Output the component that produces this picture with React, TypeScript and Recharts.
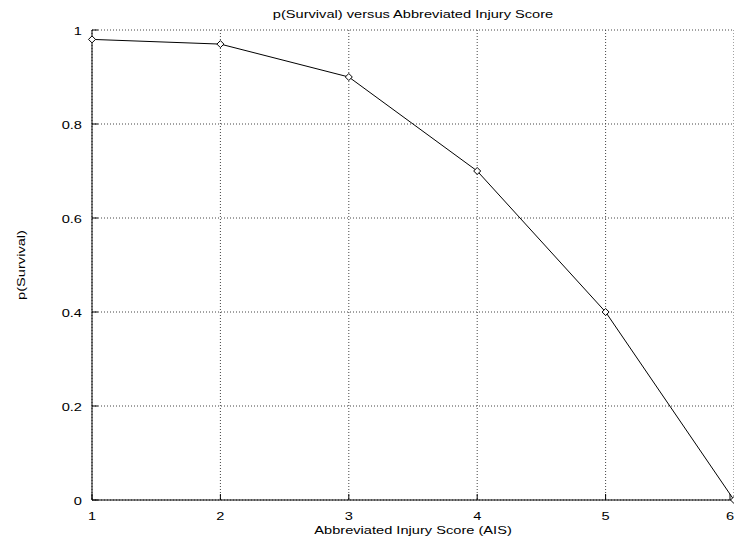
import React from 'react';
import { LineChart, Line, XAxis, YAxis, CartesianGrid } from 'recharts';

const aisScores = [1, 2, 3, 4, 5, 6];
const survival = [0.98, 0.97, 0.9, 0.7, 0.4, 0.0];
const xTicks = [1, 2, 3, 4, 5, 6];
const yTicks = [0, 0.2, 0.4, 0.6, 0.8, 1];
const titleText = 'p(Survival) versus Abbreviated Injury Score';
const xLabelText = 'Abbreviated Injury Score (AIS)';
const yLabelText = 'p(Survival)';

const data = aisScores.map((a, i) => ({ ais: a, p: survival[i] }));

const FONT = '"Liberation Sans", Arial, Helvetica, sans-serif';
const SX = 1.33;

const SText = ({ x, y, anchor, rotate, children }: any) => (
  <text
    transform={`translate(${x},${y})${rotate ? ' rotate(-90)' : ''} scale(${SX},1)`}
    x={0}
    y={0}
    textAnchor={anchor}
    fontSize={11}
    fontFamily={FONT}
    fill="#000"
  >
    {children}
  </text>
);

const BottomTick = (props: any) => {
  const { x, y, payload } = props;
  return (
    <g>
      <line x1={x} y1={y} x2={x} y2={y - 6} stroke="#000" />
      <SText x={x} y={y + 20} anchor="middle">
        {String(payload.value)}
      </SText>
    </g>
  );
};

const TopTick = (props: any) => {
  const { x, y } = props;
  return <line x1={x} y1={y} x2={x} y2={y + 6} stroke="#000" />;
};

const LeftTick = (props: any) => {
  const { x, y, payload } = props;
  return (
    <g>
      <line x1={x} y1={y} x2={x + 6} y2={y} stroke="#000" />
      <SText x={x - 10} y={y + 4.5} anchor="end">
        {String(payload.value)}
      </SText>
    </g>
  );
};

const RightTick = (props: any) => {
  const { x, y } = props;
  return <line x1={x} y1={y} x2={x - 6} y2={y} stroke="#000" />;
};

const Diamond = (props: any) => {
  const { cx, cy } = props;
  if (cx == null || cy == null) return null;
  const r = 3.5;
  return (
    <path
      d={`M${cx},${cy - r}L${cx + r},${cy}L${cx},${cy + r}L${cx - r},${cy}Z`}
      fill="#fff"
      stroke="#000"
      strokeWidth={1}
    />
  );
};

export default function App() {
  return (
    <div
      style={{
        position: 'absolute',
        left: 0,
        top: 0,
        width: 734,
        height: 540,
        overflow: 'hidden',
        background: '#fff',
      }}
    >
      <LineChart width={734} height={540} data={data} margin={{ top: 30, right: 0, bottom: 0, left: 0 }}>
        <CartesianGrid stroke="#444" strokeDasharray="1 2" />
        <XAxis
          dataKey="ais"
          type="number"
          domain={[1, 6]}
          ticks={xTicks}
          height={40}
          tickSize={0}
          tickMargin={0}
          tick={<BottomTick />}
          axisLine={{ stroke: '#000' }}
          label={{
            content: (p: any) => {
              const vb = p.viewBox;
              const cx = vb.x + vb.width / 2;
              return (
                <g>
                  <SText x={cx} y={534} anchor="middle">
                    {xLabelText}
                  </SText>
                  <SText x={cx} y={18} anchor="middle">
                    {titleText}
                  </SText>
                </g>
              );
            },
          }}
        />
        <XAxis
          xAxisId="top"
          orientation="top"
          type="number"
          domain={[1, 6]}
          ticks={xTicks}
          height={0}
          tickSize={0}
          tickMargin={0}
          tick={<TopTick />}
          axisLine={{ stroke: '#000' }}
        />
        <YAxis
          type="number"
          domain={[0, 1]}
          ticks={yTicks}
          width={92}
          tickSize={0}
          tickMargin={0}
          tick={<LeftTick />}
          axisLine={{ stroke: '#000' }}
          label={{
            content: () => (
              <SText x={25} y={265} anchor="middle" rotate>
                {yLabelText}
              </SText>
            ),
          }}
        />
        <YAxis
          yAxisId="right"
          orientation="right"
          type="number"
          domain={[0, 1]}
          ticks={yTicks}
          width={0}
          tickSize={0}
          tickMargin={0}
          tick={<RightTick />}
          axisLine={{ stroke: '#000' }}
        />
        <Line
          dataKey="p"
          stroke="#000"
          strokeWidth={1}
          dot={<Diamond />}
          activeDot={false}
          isAnimationActive={false}
        />
      </LineChart>
    </div>
  );
}
